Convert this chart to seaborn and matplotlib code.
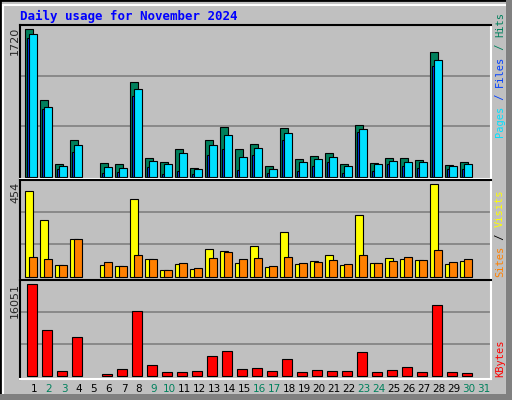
import numpy as np
import matplotlib
matplotlib.use("Agg")
import matplotlib.pyplot as plt
import seaborn as sns
from matplotlib.patches import Rectangle

days = list(range(1, 32))
hits = [1720, 900, 148, 427, 0, 167, 148, 1100, 225, 178, 330, 108, 434, 585, 330, 388,
        132, 574, 213, 248, 283, 155, 608, 167, 225, 225, 201, 1458, 143, 178, 0]
files = [1667, 818, 132, 376, 0, 120, 108, 1027, 190, 155, 283, 97, 376, 492, 236, 341,
         97, 515, 178, 213, 236, 132, 562, 155, 190, 178, 178, 1365, 132, 155, 0]
pages = [1620, 795, 97, 295, 0, 43, 62, 946, 120, 31, 74, 39, 260, 330, 85, 260,
         50, 434, 74, 132, 178, 50, 527, 74, 155, 132, 108, 1295, 97, 97, 0]
sites = [420, 278, 57, 185, 0, 57, 52, 380, 85, 33, 62, 38, 136, 126, 67, 150,
         47, 219, 62, 77, 106, 57, 302, 67, 92, 87, 82, 454, 62, 77, 0]
visits = [96, 87, 57, 185, 0, 72, 52, 106, 85, 33, 67, 42, 92, 121, 87, 92,
          52, 96, 67, 72, 82, 62, 106, 67, 77, 96, 82, 131, 72, 87, 0]
kbytes = [16051, 8025, 872, 6804, 0, 349, 1221, 11340, 1919, 698, 698, 872, 3489, 4362, 1221, 1396,
          872, 2966, 698, 1047, 872, 872, 4187, 698, 1047, 1570, 698, 12387, 698, 523, 0]
weekend = [2, 3, 9, 10, 16, 17, 23, 24, 30, 31]

sns.set_style("white")
plt.rcParams['font.family'] = ['DejaVu Sans Mono', 'DejaVu Sans']

BG = "#c0c0c0"
fig = plt.figure(figsize=(5.12, 4.0), dpi=100, facecolor=BG)
W, H = 512, 400

# bevelled frame
fig.patches.append(Rectangle((0, 0), 1, 1, transform=fig.transFigure, fill=False,
                             edgecolor="black", lw=2))
fig.patches.append(Rectangle((3 / W, 3 / H), 1 - 8 / W, 1 - 8 / H, transform=fig.transFigure,
                             fill=False, edgecolor="white", lw=1.5))
fig.patches.append(Rectangle((0, 0), 1, 6 / H, transform=fig.transFigure,
                             facecolor="#808080", edgecolor="none"))
fig.patches.append(Rectangle((1 - 6 / W, 0), 6 / W, 1, transform=fig.transFigure,
                             facecolor="#808080", edgecolor="none"))


def panel(top, bottom, ymin, ymax):
    ax = fig.add_axes([20 / W, 1 - bottom / H, 471 / W, (bottom - top) / H])
    ax.set_facecolor(BG)
    ax.set_xlim(0.467, 31.87)
    ax.set_ylim(ymin, ymax)
    for g in (ymax / 3, 2 * ymax / 3):
        ax.axhline(g, color="#808080", lw=1.2, zorder=0)
    ax.set_xticks([])
    ax.set_yticks([])
    for s in ("left", "top"):
        ax.spines[s].set_color("black")
    for s in ("right", "bottom"):
        ax.spines[s].set_color("white")
    for s in ax.spines.values():
        s.set_linewidth(1.5)
    return ax


def nz(v):
    v = np.array(v, dtype=float)
    return np.where(v == 0, np.nan, v)


x = np.array(days, dtype=float)
ekw = dict(align="edge", edgecolor="black", linewidth=0.8)

ax1 = panel(25, 179, -23, 1766)
ax1.bar(x - 0.2, nz(hits), width=0.53, color="#00805c", **ekw)
ax1.bar(x - 0.07, nz(pages), width=0.14, color="#0040ff", **ekw)
ax1.bar(x + 0.07, nz(files), width=0.53, color="#00e0ff", **ekw)

ax2 = panel(180, 280, -16, 474)
ax2.bar(x - 0.2, nz(sites), width=0.53, color="#ffff00", **ekw)
ax2.bar(x + 0.07, nz(visits), width=0.53, color="#ff8000", **ekw)

ax3 = panel(280, 379, -523, 16750)
ax3.bar(x - 0.07, nz(kbytes), width=0.67, color="#ff0000", **ekw)

for d in days:
    fig.text((20 + (d + 0.4 - 0.467) * 15) / W, 1 - 389 / H, str(d), ha="center", va="center",
             fontsize=7.5, color="#00805c" if d in weekend else "black", family="DejaVu Sans")

fig.text(20 / W, 1 - 16 / H, "Daily usage for November 2024", color="#0000ff",
         fontsize=9, fontweight="bold", va="center")

for label, y in (("1720", 27), ("454", 182), ("16051", 283)):
    fig.text(15 / W, 1 - y / H, label, rotation=90, ha="center", va="top", fontsize=8,
             family="DejaVu Sans")

renderer = fig.canvas.get_renderer()


def side(parts, y_bottom):
    y = y_bottom
    for txt, col in parts:
        t = fig.text(500 / W, 1 - y / H, txt, rotation=90, ha="center", va="bottom",
                     fontsize=7.5, color=col)
        y -= t.get_window_extent(renderer).height


side([("Pages", "#00e0ff"), (" / ", "#0040ff"), ("Files", "#0040ff"), (" / ", "#00805c"),
      ("Hits", "#00805c")], 137)
side([("Sites", "#ff8000"), (" / ", "black"), ("Visits", "#ffff00")], 277)
side([("KBytes", "#ff0000")], 377)

fig.savefig("out.png", dpi=100, facecolor=BG)
